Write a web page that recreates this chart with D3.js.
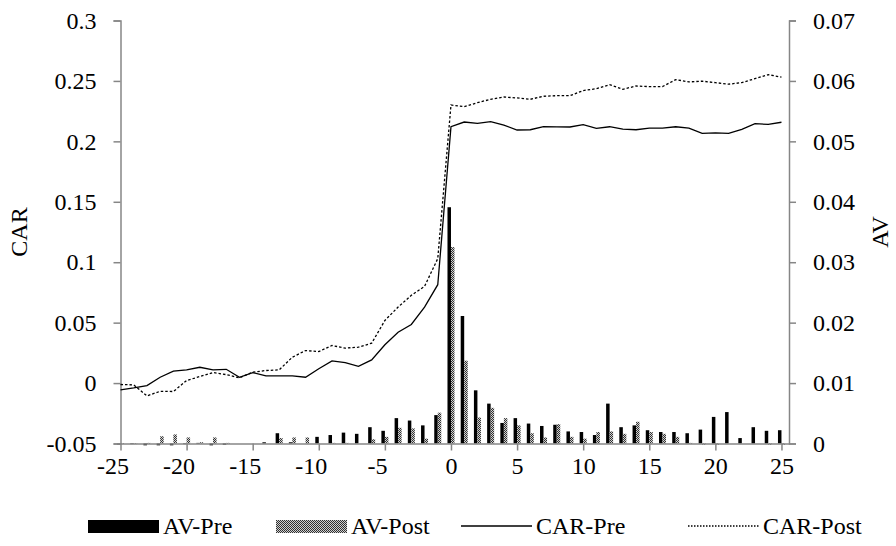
<!DOCTYPE html>
<html lang="en">
<head>
    <meta charset="UTF-8">
    <title>AV and CAR around event day</title>
    <script src="https://d3js.org/d3.v7.min.js"></script>
    <style>
        body { margin: 0; background: #fff; }
        svg text { font-family: "Liberation Serif", "Times New Roman", "DejaVu Serif", serif; fill: #000; }
    </style>
</head>
<body>
    <svg id="chart"></svg>

    <script>
        const width = 896, height = 546;

        // event days -25..25
        const days = d3.range(-25, 26);
        const xTicks = [-25, -20, -15, -10, -5, 0, 5, 10, 15, 20, 25];
        const carTicks = [-0.05, 0, 0.05, 0.1, 0.15, 0.2, 0.25, 0.3];
        const avTicks = [0, 0.01, 0.02, 0.03, 0.04, 0.05, 0.06, 0.07];

        // abnormal volume
        const avPre = [
            -0.0002, -0.0001, -0.0003, -0.0003, -0.0003, -0.0001, 0.0001, -0.0003, -0.0002, 0,
            0, 0.0002, 0.0017, 0.0002, 0, 0.0011, 0.0014, 0.0018, 0.0016, 0.0027,
            0.0021, 0.0042, 0.0038, 0.0030, 0.0047, 0.0391, 0.0211, 0.0088, 0.0066, 0.0034,
            0.0042, 0.0033, 0.0029, 0.0031, 0.0020, 0.0019, 0.0014, 0.0066, 0.0027, 0.0030,
            0.0022, 0.0019, 0.0019, 0.0017, 0.0023, 0.0044, 0.0052, 0.0009, 0.0027, 0.0021,
            0.0022
        ];
        const avPost = [
            -0.0001, -0.0001, 0.0001, 0.0012, 0.0015, 0.0010, 0.0002, 0.0010, 0.0001, 0,
            0, 0, 0.0009, 0.0010, 0.0010, 0, 0.0001, 0.0001, 0, 0.0007,
            0.0011, 0.0026, 0.0025, 0.0008, 0.0051, 0.0325, 0.0137, 0.0043, 0.0059, 0.0042,
            0.0030, 0.0017, 0.0010, 0.0032, 0.0011, 0.0008, 0.0019, 0.0020, 0.0016, 0.0036,
            0.0019, 0.0016, 0.0011, 0.0001, -0.0002, -0.0002, 0, 0, 0, -0.0002,
            -0.0002
        ];

        // cumulative abnormal return
        const carPre = [
            -0.0056, -0.0040, -0.0021, 0.0048, 0.0098, 0.0109, 0.0131, 0.0109, 0.0114, 0.0048,
            0.0087, 0.0060, 0.0060, 0.0060, 0.0048, 0.0118, 0.0184, 0.0170, 0.0139, 0.0192,
            0.0317, 0.0421, 0.0485, 0.0629, 0.0814, 0.2121, 0.2160, 0.2149, 0.2163, 0.2135,
            0.2094, 0.2096, 0.2121, 0.2119, 0.2119, 0.2138, 0.2108, 0.2121, 0.2102, 0.2096,
            0.2110, 0.2110, 0.2121, 0.2110, 0.2066, 0.2071, 0.2066, 0.2099, 0.2146, 0.2141,
            0.2158
        ];
        const carPost = [
            -0.0012, -0.0015, -0.0106, -0.0068, -0.0070, 0.0021, 0.0054, 0.0087, 0.0070, 0.0043,
            0.0090, 0.0104, 0.0109, 0.0214, 0.0269, 0.0261, 0.0311, 0.0289, 0.0297, 0.0330,
            0.0518, 0.0629, 0.0726, 0.0800, 0.1030, 0.2301, 0.2287, 0.2320, 0.2348, 0.2367,
            0.2359, 0.2348, 0.2373, 0.2378, 0.2378, 0.2420, 0.2436, 0.2469, 0.2431, 0.2458,
            0.2453, 0.2453, 0.2511, 0.2492, 0.2498, 0.2486, 0.2473, 0.2486, 0.2519, 0.2552,
            0.2531
        ];

        const legendLabels = ["AV-Pre", "AV-Post", "CAR-Pre", "CAR-Post"];

        const plotLeft = 120.5, plotRight = 789, plotTop = 20.5, plotBottom = 443.5;
        const axisColor = "#868686";
        const fontSize = 24;

        const svg = d3.select("#chart").attr("width", width).attr("height", height);

        // checkered fill for the post bars
        const defs = svg.append("defs");
        const pat = defs.append("pattern").attr("id", "dots")
            .attr("width", 2).attr("height", 2).attr("patternUnits", "userSpaceOnUse");
        pat.append("rect").attr("width", 2).attr("height", 2).attr("fill", "#d0d0d0");
        pat.append("rect").attr("width", 1).attr("height", 1).attr("fill", "#303030");
        pat.append("rect").attr("x", 1).attr("y", 1).attr("width", 1).attr("height", 1).attr("fill", "#303030");

        const xScale = d3.scaleLinear().domain([-25, 25.57]).range([plotLeft, plotRight]);
        const yCar = d3.scaleLinear().domain([-0.05, 0.3]).range([plotBottom, plotTop]);
        const yAv = d3.scaleLinear().domain([0, 0.07]).range([plotBottom, plotTop]);

        // bars
        const barW = 3.5;
        const bars = svg.append("g");
        bars.selectAll("rect.pre").data(days).join("rect")
            .attr("class", "pre")
            .attr("x", d => xScale(d) - barW)
            .attr("y", (d, i) => yAv(Math.max(0, avPre[i])))
            .attr("width", barW)
            .attr("height", (d, i) => Math.abs(yAv(avPre[i]) - yAv(0)))
            .attr("fill", "#000");
        bars.selectAll("rect.post").data(days).join("rect")
            .attr("class", "post")
            .attr("x", d => xScale(d))
            .attr("y", (d, i) => yAv(Math.max(0, avPost[i])))
            .attr("width", barW)
            .attr("height", (d, i) => Math.abs(yAv(avPost[i]) - yAv(0)))
            .attr("fill", "url(#dots)");

        // axes
        const fmt = d => (d === 0 ? "0" : String(+d.toFixed(2)));
        const yAxisL = svg.append("g").attr("transform", `translate(${plotLeft},0)`)
            .call(d3.axisLeft(yCar).tickValues(carTicks).tickSize(7).tickPadding(17).tickFormat(fmt));
        const yAxisR = svg.append("g").attr("transform", `translate(${plotRight},0)`)
            .call(d3.axisRight(yAv).tickValues(avTicks).tickSize(7).tickPadding(17).tickFormat(fmt));
        const xAxis = svg.append("g").attr("transform", `translate(0,${plotBottom})`)
            .call(d3.axisBottom(xScale).tickValues(xTicks).tickSize(7).tickPadding(6).tickFormat(d => String(d)));

        [yAxisL, yAxisR, xAxis].forEach(g => {
            g.attr("font-family", null);
            g.select(".domain").attr("stroke", axisColor).attr("stroke-width", 1.5);
            g.selectAll(".tick line").attr("stroke", axisColor).attr("stroke-width", 1.5);
            g.selectAll(".tick text").attr("font-size", fontSize);
        });
        // x axis line runs between the two y axes
        xAxis.select(".domain").attr("d", `M${plotLeft},0.5H${plotRight}`);
        // negative day labels sit a little left of their ticks
        xAxis.selectAll(".tick text").attr("dx", d => d < 0 ? -8 : 0);

        // lines
        const carLine = vals => d3.line()
            .x((d, i) => xScale(days[i]))
            .y(d => yCar(d))(vals);
        svg.append("path").attr("d", carLine(carPre))
            .attr("fill", "none").attr("stroke", "#000").attr("stroke-width", 1.3);
        svg.append("path").attr("d", carLine(carPost))
            .attr("fill", "none").attr("stroke", "#000").attr("stroke-width", 1.3)
            .attr("stroke-dasharray", "2.5,2");

        // axis titles
        svg.append("text").attr("transform", `translate(27,${(plotTop + plotBottom) / 2}) rotate(-90)`)
            .attr("text-anchor", "middle").attr("font-size", fontSize).text("CAR");
        svg.append("text").attr("transform", `translate(888,${(plotTop + plotBottom) / 2}) rotate(-90)`)
            .attr("text-anchor", "middle").attr("font-size", fontSize).text("AV");

        // legend
        const legendX = [88, 276, 461, 688];
        const swatchW = 71, legendY = 526;
        const leg = svg.append("g").selectAll("g").data(legendLabels).join("g")
            .attr("transform", (d, i) => `translate(${legendX[i]},${legendY})`);
        leg.each(function (d, i) {
            const g = d3.select(this);
            if (i === 0) g.append("rect").attr("y", -6).attr("width", swatchW).attr("height", 13).attr("fill", "#000");
            if (i === 1) g.append("rect").attr("y", -6).attr("width", swatchW).attr("height", 13).attr("fill", "url(#dots)");
            if (i === 2) g.append("line").attr("x2", swatchW).attr("stroke", "#000").attr("stroke-width", 1.3);
            if (i === 3) g.append("line").attr("x2", swatchW).attr("stroke", "#000").attr("stroke-width", 1.3)
                .attr("stroke-dasharray", "1.5,1.5");
        });
        leg.append("text").attr("x", swatchW + 4).attr("y", 8)
            .attr("font-size", fontSize).text(d => d);
    </script>
</body>
</html>
